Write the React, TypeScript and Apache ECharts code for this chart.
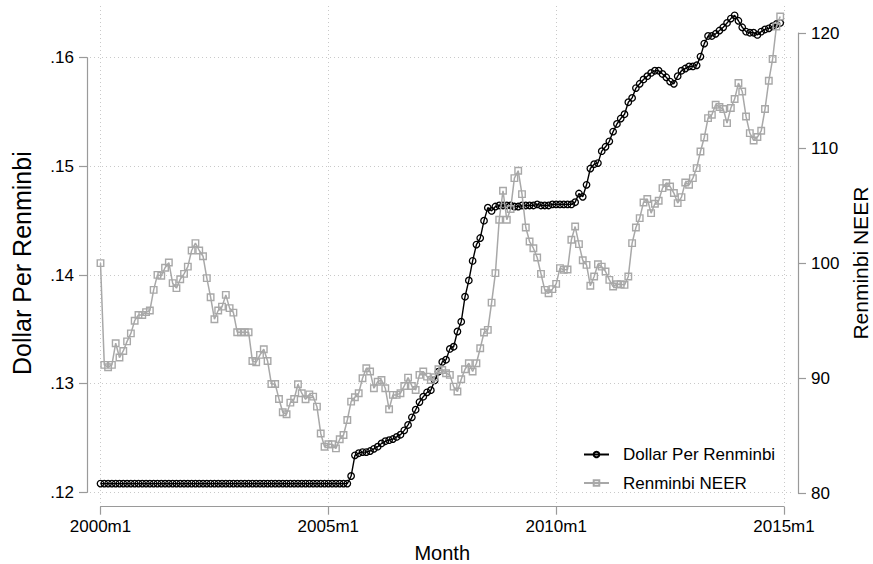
import React, { useEffect, useRef } from "react";
import * as echarts from "echarts";

// ---------------- data ----------------
const tickLabels = ["2000m1", "2005m1", "2010m1", "2015m1"];
const leftTicks = [0.12, 0.13, 0.14, 0.15, 0.16];
const xTickMonths = [0, 60, 120, 180];

// Monthly, 2000m1 .. 2014m12
const dollarPerRenminbi = [
  0.1208, 0.1208, 0.1208, 0.1208, 0.1208, 0.1208, 0.1208, 0.1208, 0.1208, 0.1208, 0.1208, 0.1208,
  0.1208, 0.1208, 0.1208, 0.1208, 0.1208, 0.1208, 0.1208, 0.1208, 0.1208, 0.1208, 0.1208, 0.1208,
  0.1208, 0.1208, 0.1208, 0.1208, 0.1208, 0.1208, 0.1208, 0.1208, 0.1208, 0.1208, 0.1208, 0.1208,
  0.1208, 0.1208, 0.1208, 0.1208, 0.1208, 0.1208, 0.1208, 0.1208, 0.1208, 0.1208, 0.1208, 0.1208,
  0.1208, 0.1208, 0.1208, 0.1208, 0.1208, 0.1208, 0.1208, 0.1208, 0.1208, 0.1208, 0.1208, 0.1208,
  0.1208, 0.1208, 0.1208, 0.1208, 0.1208, 0.1208, 0.1215, 0.1234, 0.1236, 0.1237, 0.1237, 0.1238,
  0.1240, 0.1242, 0.1245, 0.1247, 0.1248, 0.1249, 0.1251, 0.1253, 0.1257, 0.1262, 0.1269, 0.1276,
  0.1283, 0.1288, 0.1292, 0.1294, 0.1303, 0.1311, 0.1320, 0.1322, 0.1332, 0.1334, 0.1348, 0.1357,
  0.1380, 0.1395, 0.1413, 0.1428, 0.1434, 0.1450, 0.1462, 0.1459, 0.1463, 0.1464, 0.1464, 0.1464,
  0.1464, 0.1463, 0.1463, 0.1464, 0.1464, 0.1464, 0.1464, 0.1465, 0.1464, 0.1464, 0.1464, 0.1465,
  0.1465, 0.1465, 0.1465, 0.1465, 0.1465, 0.1467, 0.1475, 0.1472, 0.1483, 0.1498, 0.1502, 0.1503,
  0.1514, 0.1518, 0.1523, 0.1532, 0.1539, 0.1544, 0.1548, 0.1559, 0.1563, 0.1572, 0.1576, 0.1580,
  0.1583, 0.1586, 0.1588, 0.1588, 0.1585, 0.1582, 0.1578, 0.1576, 0.1583, 0.1588, 0.1590, 0.1592,
  0.1592, 0.1593, 0.1601, 0.1613, 0.1620, 0.1620, 0.1622, 0.1625, 0.1628, 0.1632, 0.1636, 0.1639,
  0.1634, 0.1628, 0.1624, 0.1623, 0.1623, 0.1621, 0.1624, 0.1626, 0.1627, 0.1629, 0.1631, 0.1632,
];

const renminbiNEER = [
  100.0, 91.16, 90.96, 91.16, 93.04, 91.8, 92.37, 93.2, 93.9, 95.0, 95.5, 95.5,
  95.74, 95.88, 97.68, 98.98, 98.9, 99.6, 100.05, 98.26, 97.83, 98.6, 99.07, 99.7,
  101.1, 101.74, 101.1, 100.6, 98.7, 97.04, 95.13, 95.88, 96.22, 97.24, 96.09, 95.7,
  94.0, 94.0, 94.0, 94.0, 91.5, 91.39, 92.03, 92.52, 91.5, 89.5, 89.5, 88.2,
  87.04, 86.87, 87.88, 88.2, 89.48, 88.7, 88.17, 88.6, 88.4, 87.53, 85.2, 84.05,
  84.26, 84.26, 83.9, 84.7, 85.07, 86.37, 87.97, 88.35, 88.7, 90.0, 90.87, 90.58,
  89.13, 89.7, 89.85, 89.13, 87.3, 88.55, 88.55, 88.7, 89.33, 90.05, 89.33, 88.98,
  90.29, 90.58, 90.14, 89.85, 90.08, 90.78, 90.72, 90.43, 90.29, 89.27, 88.84, 89.91,
  90.78, 91.3, 90.58, 91.3, 92.6, 93.97, 94.2, 96.57, 99.13, 103.77, 106.29, 103.77,
  104.7, 107.39, 108.03, 106.0, 103.1, 101.88, 101.3, 100.49, 99.07, 97.68, 97.39, 97.74,
  98.2, 99.57, 99.42, 99.45, 102.03, 103.18, 101.65, 100.25, 99.85, 98.03, 98.84, 99.91,
  99.7, 99.27, 98.55, 97.97, 98.17, 98.17, 98.11, 98.84, 101.74, 103.1, 103.91, 105.27,
  105.57, 104.35, 105.16, 105.42, 106.52, 106.96, 106.66, 106.09, 105.22, 105.74, 107.01, 106.81,
  107.39, 108.26, 109.7, 110.92, 112.6, 112.9, 113.77, 113.57, 113.39, 112.17, 113.48, 114.26,
  115.65, 114.92, 112.75, 111.3, 110.66, 110.96, 111.5, 113.39, 115.85, 117.74, 120.57, 121.44,
];

// ---------------- layout (pixels) ----------------
const W = 873;
const H = 564;
const X0 = 100.5; // 2000m1
const X1 = 784; // 2015m1
const L_Y0 = 492.3; // .12
const L_Y1 = 57.7; // .16
const R_Y0 = 493.3; // 80
const R_Y1 = 33; // 120
const PR = { l: 90, r: 793, t: 3, b: 503 }; // plot region

const pxPerMonth = (X1 - X0) / 180;
const gXMin = 0 - (X0 - PR.l) / pxPerMonth;
const gXMax = 180 + (PR.r - X1) / pxPerMonth;
const lPx = (L_Y0 - L_Y1) / 0.04;
const gLMin = 0.12 - (PR.b - L_Y0) / lPx;
const gLMax = 0.16 + (L_Y1 - PR.t) / lPx;
const rPx = (R_Y0 - R_Y1) / 40;
const gRMin = 80 - (PR.b - R_Y0) / rPx;
const gRMax = 120 + (R_Y1 - PR.t) / rPx;

const FONT = "'Liberation Sans', Arial, Helvetica, sans-serif";
const AXIS_GRAY = "#9a9a9a";
const NEER_GRAY = "#a8a8a8";

export default function App() {
  const ref = useRef<HTMLDivElement>(null);

  useEffect(() => {
    if (!ref.current) return;
    const chart = echarts.init(ref.current, undefined, { renderer: "svg" });
    const axisLine = { show: true, onZero: false, lineStyle: { color: AXIS_GRAY, width: 1.2 } };
    const axisTick = { show: true, length: 8, lineStyle: { color: AXIS_GRAY, width: 1.2 } };
    const gridBase = { containLabel: false, outerBoundsMode: "none" };
    const option: any = {
      animation: false,
      backgroundColor: "#ffffff",
      textStyle: { fontFamily: FONT, color: "#000" },
      grid: [
        { ...gridBase, left: PR.l, right: W - PR.r, top: PR.t, bottom: H - PR.b },
        { ...gridBase, left: X0, right: W - X1, top: L_Y1, bottom: H - L_Y0 },
        { ...gridBase, left: X0, right: W - X1, top: R_Y1, bottom: H - R_Y0 },
      ],
      xAxis: [
        { gridIndex: 0, type: "value", min: gXMin, max: gXMax, show: false },
        {
          gridIndex: 1,
          type: "value",
          min: 0,
          max: 180,
          interval: 60,
          position: "bottom",
          offset: 506.7 - L_Y0,
          axisLine,
          axisTick,
          axisLabel: {
            fontSize: 17,
            color: "#000",
            fontFamily: FONT,
            margin: 11,
            formatter: (v: number) => tickLabels[Math.round(v / 60)] ?? "",
          },
          splitLine: { show: false },
          name: "Month",
          nameLocation: "middle",
          nameGap: 36,
          nameTextStyle: { fontSize: 20, color: "#000", fontFamily: FONT },
        },
        { gridIndex: 2, type: "value", min: 0, max: 180, show: false },
      ],
      yAxis: [
        { gridIndex: 0, type: "value", min: gLMin, max: gLMax, show: false, position: "left" },
        { gridIndex: 0, type: "value", min: gRMin, max: gRMax, show: false, position: "right" },
        {
          gridIndex: 1,
          type: "value",
          min: 0.12,
          max: 0.16,
          interval: 0.01,
          position: "left",
          offset: X0 - 87,
          axisLine,
          axisTick,
          axisLabel: {
            fontSize: 17,
            color: "#000",
            fontFamily: FONT,
            margin: 13,
            formatter: (v: number) => v.toFixed(2).replace(/^0/, ""),
          },
          splitLine: { show: false },
        },
        {
          gridIndex: 2,
          type: "value",
          min: 80,
          max: 120,
          interval: 10,
          position: "right",
          offset: 798 - X1,
          axisLine,
          axisTick,
          axisLabel: { fontSize: 17, color: "#000", fontFamily: FONT, margin: 13 },
          splitLine: { show: false },
          name: "Renminbi NEER",
          nameLocation: "middle",
          nameRotate: 90,
          nameGap: 52,
          nameTextStyle: { fontSize: 21, color: "#000", fontFamily: FONT },
        },
        {
          gridIndex: 2,
          type: "value",
          min: 80,
          max: 120,
          position: "left",
          offset: X0 - 87,
          axisLine: { show: false, onZero: false },
          axisTick: { show: false },
          axisLabel: { show: false },
          splitLine: { show: false },
          name: "Dollar Per Renminbi",
          nameLocation: "middle",
          nameRotate: 90,
          nameGap: 53,
          nameTextStyle: { fontSize: 25, color: "#000", fontFamily: FONT },
        },
      ],
      legend: {
        orient: "vertical",
        left: 583,
        top: 446,
        padding: 0,
        itemWidth: 25,
        itemHeight: 7,
        itemGap: 11.5,
        textStyle: { fontSize: 17, color: "#000", fontFamily: FONT, padding: [0, 0, 0, 9] },
        data: ["Dollar Per Renminbi", "Renminbi NEER"],
      },
      series: [
        {
          name: "Dollar Per Renminbi",
          type: "line",
          xAxisIndex: 0,
          yAxisIndex: 0,
          data: dollarPerRenminbi.map((v, i) => [i, v]),
          symbol: "circle",
          symbolSize: 6.5,
          lineStyle: { color: "#000", width: 1.4 },
          itemStyle: { color: "transparent", borderColor: "#000", borderWidth: 1.3 },
          z: 2,
          markLine: {
            silent: true,
            z: 0,
            symbol: ["none", "none"],
            label: { show: false },
            emphasis: { disabled: true },
            lineStyle: { color: "#c9c9c9", width: 1, type: [1, 3] },
            data: [
              ...leftTicks.map((v) => ({ yAxis: v })),
              ...xTickMonths.map((m) => ({ xAxis: m })),
            ],
          },
        },
        {
          name: "Renminbi NEER",
          type: "line",
          xAxisIndex: 0,
          yAxisIndex: 1,
          data: renminbiNEER.map((v, i) => [i, v]),
          symbol: "rect",
          symbolSize: 6.5,
          lineStyle: { color: NEER_GRAY, width: 1.5 },
          itemStyle: { color: "transparent", borderColor: NEER_GRAY, borderWidth: 1.4 },
          z: 3,
        },
      ],
    };
    chart.setOption(option);
    return () => chart.dispose();
  }, []);

  return (
    <div
      ref={ref}
      style={{ position: "absolute", left: 0, top: 0, width: W, height: H, background: "#fff" }}
    />
  );
}
